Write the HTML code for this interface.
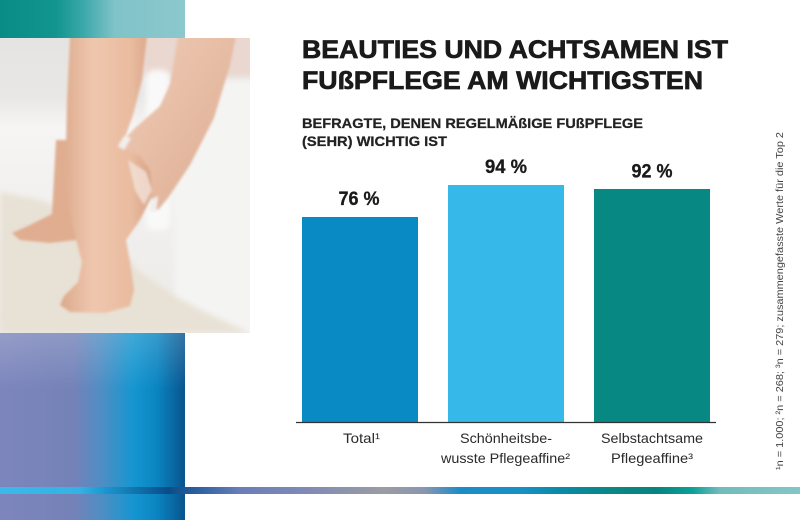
<!DOCTYPE html>
<html><head><meta charset="utf-8"><style>
html,body{margin:0;padding:0;background:#fff;}
svg{display:block;}
</style></head><body>
<svg width="800" height="520" viewBox="0 0 800 520" xmlns="http://www.w3.org/2000/svg">
<defs>
<linearGradient id="gTop" x1="0" y1="0" x2="1" y2="0">
<stop offset="0" stop-color="#0a8c86"/><stop offset="0.3" stop-color="#12958e"/>
<stop offset="0.45" stop-color="#3aa8aa"/><stop offset="0.62" stop-color="#80c3c8"/>
<stop offset="1" stop-color="#8cc8cd"/></linearGradient>
<linearGradient id="gBot" x1="0" y1="0" x2="1" y2="0">
<stop offset="0" stop-color="#7d86bc"/><stop offset="0.4" stop-color="#7482b8"/>
<stop offset="0.55" stop-color="#4e8ec4"/><stop offset="0.72" stop-color="#1596d0"/>
<stop offset="0.85" stop-color="#0a84c0"/><stop offset="1" stop-color="#08548e"/></linearGradient>
<linearGradient id="gBotV" x1="0" y1="0" x2="0" y2="1">
<stop offset="0" stop-color="#ffffff" stop-opacity="0.18"/><stop offset="0.3" stop-color="#ffffff" stop-opacity="0"/></linearGradient>
<linearGradient id="gStripe" x1="0" y1="0" x2="800" y2="0" gradientUnits="userSpaceOnUse">
<stop offset="0" stop-color="#3cb9ea"/><stop offset="0.1" stop-color="#34b2e4"/>
<stop offset="0.13" stop-color="#1a98d0"/><stop offset="0.21" stop-color="#0a4c88"/>
<stop offset="0.25" stop-color="#2f62a2"/><stop offset="0.3" stop-color="#6a7eb8"/>
<stop offset="0.38" stop-color="#7e8ab6"/><stop offset="0.48" stop-color="#9c9ca2"/>
<stop offset="0.53" stop-color="#8a96b0"/><stop offset="0.575" stop-color="#1c8cc8"/>
<stop offset="0.65" stop-color="#1890c6"/><stop offset="0.7" stop-color="#0a8aa8"/>
<stop offset="0.76" stop-color="#0a8886"/><stop offset="0.82" stop-color="#088480"/>
<stop offset="0.865" stop-color="#0aa098"/><stop offset="0.9" stop-color="#72bcbc"/>
<stop offset="1" stop-color="#84c6c6"/></linearGradient>
<linearGradient id="gSkin" x1="0" y1="0" x2="1" y2="0">
<stop offset="0" stop-color="#dba98b"/><stop offset="0.35" stop-color="#efc7ae"/>
<stop offset="0.75" stop-color="#e9bb9f"/><stop offset="1" stop-color="#d6a084"/></linearGradient>
<linearGradient id="gHand" x1="0" y1="0" x2="1" y2="1">
<stop offset="0" stop-color="#f0cdb8"/><stop offset="1" stop-color="#dcab90"/></linearGradient>
<linearGradient id="gBg" x1="0" y1="0" x2="0" y2="1">
<stop offset="0" stop-color="#e6e4e2"/><stop offset="0.2" stop-color="#e9e7e5"/>
<stop offset="0.3" stop-color="#f6f5f4"/><stop offset="0.45" stop-color="#f3f2f1"/>
<stop offset="1" stop-color="#eceae7"/></linearGradient>
<clipPath id="cPhoto"><rect x="0" y="38" width="250" height="295"/></clipPath>
<filter id="blur" x="-10%" y="-10%" width="120%" height="120%"><feGaussianBlur stdDeviation="1.4"/></filter>
<filter id="blur2"><feGaussianBlur stdDeviation="3"/></filter>
</defs>

<!-- top-left teal block -->
<rect x="0" y="0" width="185" height="38" fill="url(#gTop)"/>
<!-- bottom-left blue block -->
<rect x="0" y="333" width="185" height="187" fill="url(#gBot)"/>
<rect x="0" y="333" width="185" height="187" fill="url(#gBotV)"/>

<!-- photo -->
<g clip-path="url(#cPhoto)">
<rect x="0" y="38" width="250" height="295" fill="url(#gBg)"/>
<g filter="url(#blur2)">
<rect x="175" y="80" width="80" height="255" fill="#f4f4f3"/>
<rect x="143" y="30" width="110" height="46" fill="#ead7cf"/>
<rect x="146" y="70" width="24" height="160" rx="8" fill="#f9f9f9"/>
<polygon points="0,192 40,200 75,214 110,240 140,272 175,296 205,312 250,333 0,333" fill="#e8e1d5"/>
</g>
<g filter="url(#blur)">
<!-- background leg/foot -->
<path d="M56,140 L70,140 L74,215 L76,240 L50,243 L20,240 L12,233 L30,225 L52,214 Z" fill="#e0ad90"/>
<!-- main leg -->
<path d="M70,36 L147,36 L142,80 L133,115 L124,140 L140,150 L152,168 L155,182 L150,200 L140,220 L126,240 L130,262 L134,290 L130,306 L105,313 L70,312 L60,305 L64,296 L78,282 L82,262 L74,232 L68,200 L66,150 L67,100 Z" fill="url(#gSkin)"/>
<!-- cream on heel -->
<path d="M128,160 L146,172 L152,190 L144,205 L135,190 Z" fill="#f3e2d8" opacity="0.8"/>
<!-- hand -->
<path d="M178,36 L236,36 L230,65 L214,118 L190,165 L168,198 L158,210 L150,206 L152,188 L150,170 L140,156 L126,150 L120,144 L135,128 L160,106 L170,84 Z" fill="url(#gHand)"/>
<path d="M118,146 L124,136 L131,138 L124,150 Z" fill="#f2eeec"/>
<path d="M150,200 L158,196 L156,212 L150,212 Z" fill="#f2eeec"/>
</g>
</g>

<!-- stripe -->
<rect x="0" y="487" width="800" height="7" fill="url(#gStripe)"/>

<!-- titles -->
<g font-family="'Liberation Sans', Arial, sans-serif" font-weight="bold" fill="#1a1a1a">
<text x="302" y="58" font-size="25" textLength="426" lengthAdjust="spacingAndGlyphs" stroke="#1a1a1a" stroke-width="0.7">BEAUTIES UND ACHTSAMEN IST</text>
<text x="302" y="89" font-size="25" textLength="401" lengthAdjust="spacingAndGlyphs" stroke="#1a1a1a" stroke-width="0.7">FUßPFLEGE AM WICHTIGSTEN</text>
<text x="302" y="128" font-size="14" textLength="341" lengthAdjust="spacingAndGlyphs" fill="#222" stroke="#222" stroke-width="0.25">BEFRAGTE, DENEN REGELMÄßIGE FUßPFLEGE</text>
<text x="302" y="146" font-size="14" textLength="145" lengthAdjust="spacingAndGlyphs" fill="#222" stroke="#222" stroke-width="0.25">(SEHR) WICHTIG IST</text>
</g>

<!-- bars -->
<rect x="302" y="217" width="116" height="205" fill="#0a8ac4"/>
<rect x="448" y="185" width="116" height="237" fill="#36b8e8"/>
<rect x="594" y="189" width="116" height="233" fill="#078882"/>
<line x1="296" y1="422.5" x2="716" y2="422.5" stroke="#333" stroke-width="1.2"/>

<!-- value labels -->
<g font-family="'Liberation Sans', Arial, sans-serif" font-weight="bold" font-size="19.5" fill="#1a1a1a" text-anchor="middle" stroke="#1a1a1a" stroke-width="0.3">
<text x="359" y="205" textLength="41" lengthAdjust="spacingAndGlyphs">76 %</text>
<text x="506" y="173" textLength="42" lengthAdjust="spacingAndGlyphs">94 %</text>
<text x="652" y="177.5" textLength="41" lengthAdjust="spacingAndGlyphs">92 %</text>
</g>

<!-- category labels -->
<g font-family="'Liberation Sans', Arial, sans-serif" font-size="14" fill="#2a2a2a" text-anchor="middle">
<text x="361.5" y="443" textLength="37" lengthAdjust="spacingAndGlyphs">Total¹</text>
<text x="506" y="443" textLength="92" lengthAdjust="spacingAndGlyphs">Schönheitsbe-</text>
<text x="505.5" y="463" textLength="129" lengthAdjust="spacingAndGlyphs">wusste Pflegeaffine²</text>
<text x="652" y="443" textLength="102" lengthAdjust="spacingAndGlyphs">Selbstachtsame</text>
<text x="652" y="463" textLength="82" lengthAdjust="spacingAndGlyphs">Pflegeaffine³</text>
</g>

<!-- footnote -->
<text transform="translate(783,470) rotate(-90)" font-family="'Liberation Sans', Arial, sans-serif" font-size="10.5" fill="#444" textLength="338" lengthAdjust="spacingAndGlyphs">¹n = 1.000; ²n = 268; ³n = 279; zusammengefasste Werte für die Top 2</text>
</svg>
</body></html>
